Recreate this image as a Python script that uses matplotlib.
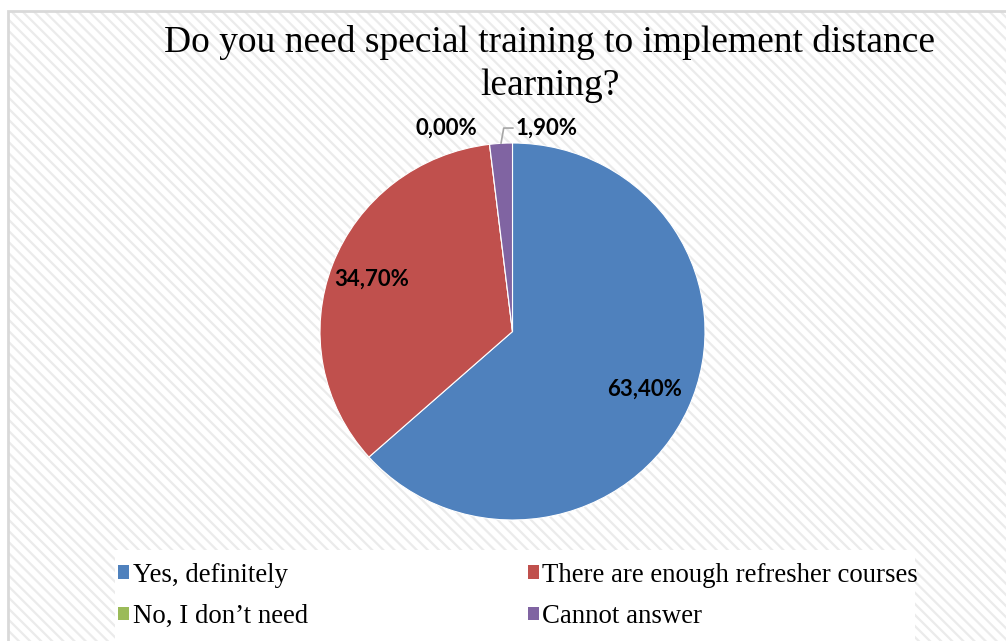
import numpy as np
import matplotlib
matplotlib.use("Agg")
import matplotlib.pyplot as plt
from matplotlib.patches import Rectangle

# data
categories = ["Yes, definitely", "There are enough refresher courses",
              "No, I don\u2019t need", "Cannot answer"]
values = [63.4, 34.7, 0.0, 1.9]
colors = ["#4f81bd", "#c0504d", "#9bbb59", "#8064a2"]
title = "Do you need special training to implement distance\nlearning?"

W, H = 1006, 641
plt.rcParams['hatch.linewidth'] = 1.6
fig = plt.figure(figsize=(W / 100, H / 100), dpi=100)

# chart area background with diagonal stripes + border
bg = Rectangle((8 / W, 0), 1.2, (H - 11) / H, transform=fig.transFigure,
               facecolor="white", edgecolor="#ebebeb", hatch="\\\\\\",
               linewidth=0, zorder=-3)
fig.patches.append(bg)
border = Rectangle((8 / W, -0.1), 1.2, (H - 11) / H + 0.1, transform=fig.transFigure,
                   facecolor="none", edgecolor="#d9d9d9", linewidth=2, zorder=-2)
fig.patches.append(border)
# white band behind legend
fig.patches.append(Rectangle((115 / W, 0), 800 / W, 91 / H, transform=fig.transFigure,
                             facecolor="white", edgecolor="none", zorder=-2))

# pie is slightly stretched horizontally in the original
cx, cy, rx, ry = 512.5, 331.5, 192.5, 188.5
ax = fig.add_axes([(cx - rx) / W, (H - cy - ry) / H, 2 * rx / W, 2 * ry / H])
ax.set_zorder(2)
ax.patch.set_alpha(0)

wedges, _ = ax.pie(values, colors=colors, startangle=90, counterclock=False,
                   radius=1, wedgeprops=dict(edgecolor="white", linewidth=0.8))
ax.set_xlim(-1, 1)
ax.set_ylim(-1, 1)
ax.set_aspect("auto")
ax.axis("off")

lab_font = dict(family=["Lato", "DejaVu Sans"], fontweight="bold", fontsize=16)
fmt = lambda v: f"{v:.2f}%".replace(".", ",")

# inside labels for big slices
for w, v, d in zip(wedges[:2], values[:2], [0.75, 0.78]):
    ang = np.deg2rad((w.theta1 + w.theta2) / 2)
    ax.text(d * np.cos(ang), d * np.sin(ang), fmt(v), ha="center", va="center", **lab_font)

# outside labels for small slices
wg = wedges[2]
ang = np.deg2rad((wg.theta1 + wg.theta2) / 2)
ax.annotate(fmt(values[2]), xy=(np.cos(ang), np.sin(ang)), xytext=(-31, 11.5),
            textcoords="offset points", ha="center", va="center", **lab_font)
wp = wedges[3]
ang = np.deg2rad((wp.theta1 + wp.theta2) / 2)
ax.annotate(fmt(values[3]), xy=(np.cos(ang), np.sin(ang)), xytext=(33, 11),
            textcoords="offset points", ha="center", va="center",
            arrowprops=dict(arrowstyle="-", color="#a6a6a6", lw=1.2,
                            shrinkA=17, shrinkB=0,
                            connectionstyle="angle,angleA=0,angleB=80,rad=0"),
            **lab_font)

fig.text(550 / W, 1 - 64 / H, title, ha="center", va="center",
         family="Liberation Serif", fontsize=27, linespacing=1.32)

order = [0, 2, 1, 3]
leg = fig.legend([wedges[i] for i in order], [categories[i] for i in order],
                 ncol=2, loc="center left", bbox_to_anchor=(94 / W, 1 - 596 / H),
                 frameon=False, prop=dict(family="Liberation Serif", size=19.3),
                 handlelength=0.42, handleheight=0.42, handletextpad=0.12,
                 columnspacing=8.2, labelspacing=0.6)
for h in leg.legend_handles:
    h.set_edgecolor("none")

fig.savefig("out.png", dpi=100)
